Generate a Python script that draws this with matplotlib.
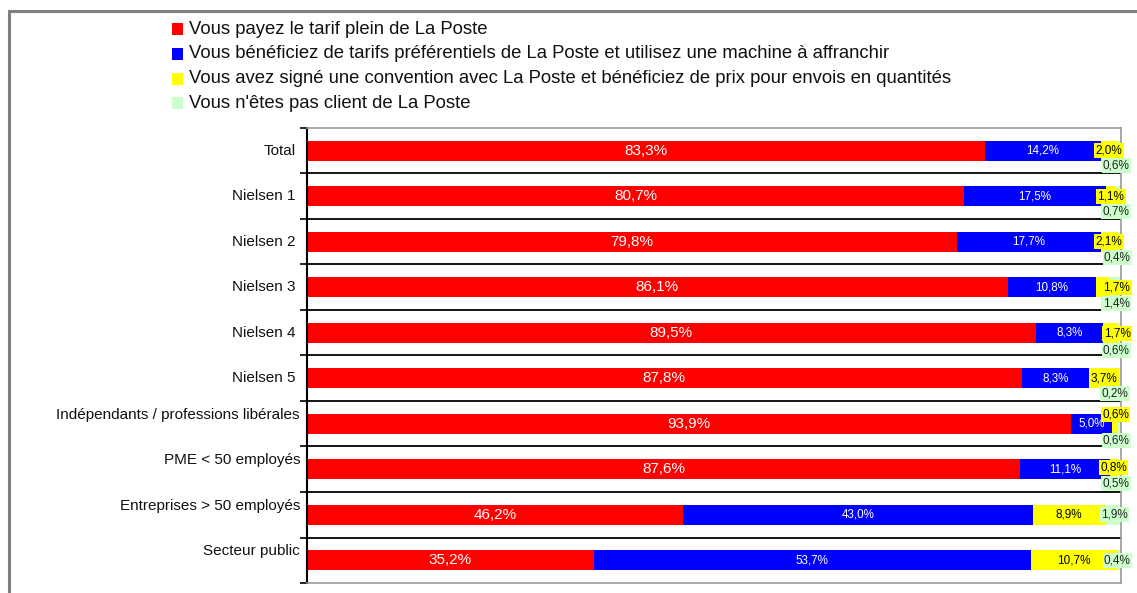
import matplotlib
matplotlib.use("Agg")
import matplotlib.pyplot as plt
from matplotlib.patches import Rectangle

plt.rcParams['font.family'] = ['Liberation Sans', 'DejaVu Sans']

categories = ["Total", "Nielsen 1", "Nielsen 2", "Nielsen 3", "Nielsen 4", "Nielsen 5",
              "Indépendants / professions libérales", "PME < 50 employés",
              "Entreprises > 50 employés", "Secteur public"]
tarif_plein = [83.3, 80.7, 79.8, 86.1, 89.5, 87.8, 93.9, 87.6, 46.2, 35.2]
tarifs_pref = [14.2, 17.5, 17.7, 10.8, 8.3, 8.3, 5.0, 11.1, 43.0, 53.7]
convention = [2.0, 1.1, 2.1, 1.7, 1.7, 3.7, 0.6, 0.8, 8.9, 10.7]
non_client = [0.6, 0.7, 0.4, 1.4, 0.6, 0.2, 0.6, 0.5, 1.9, 0.4]
series_names = [
    "Vous payez le tarif plein de La Poste",
    "Vous bénéficiez de tarifs préférentiels de La Poste et utilisez une machine à affranchir",
    "Vous avez signé une convention avec La Poste et bénéficiez de prix pour envois en quantités",
    "Vous n'êtes pas client de La Poste",
]
colors = ["#FF0000", "#0000FF", "#FFFF00", "#CCFFCC"]

# label placement tweaks (pixels), styling only
yellow_off = [(0, 0), (0, 0), (0, 0), (14, 0), (7, -1), (0, 0), (1, 9), (0, 2), (0, 0), (0, 0)]
green_off = [(-3, -15), (-2, -15), (-2, -16), (1, -16), (-3, -18), (-5, -15), (-3, -17), (-3, -14), (1, 0), (-2, 0)]
cat_off = [(-11, 0)] * 6 + [(-7, 9)] * 4

W, H = 1137, 593
fig = plt.figure(figsize=(W / 100, H / 100), dpi=100)
ax = fig.add_axes([307 / W, 1 - 583 / H, (1121 - 307) / W, (583 - 128) / H])

series = [tarif_plein, tarifs_pref, convention, non_client]
n = len(categories)
ys = list(range(n))
left = [0.0] * n
lefts = []
for vals, c in zip(series, colors):
    ax.barh(ys, vals, left=left, height=0.44, color=c, edgecolor='none', zorder=2)
    lefts.append(list(left))
    left = [l + v for l, v in zip(left, vals)]

def fmt(v):
    return f"{v:.1f}".replace(".", ",") + "%"

for i in range(n):
    xc = lefts[0][i] + tarif_plein[i] / 2
    ax.text(xc, i, fmt(tarif_plein[i]), ha='center', va='center', color='white', fontsize=11, zorder=4)
    xc = lefts[1][i] + tarifs_pref[i] / 2
    ax.text(xc, i, fmt(tarifs_pref[i]), ha='center', va='center', color='white', fontsize=8.4, zorder=4)
    xc = lefts[2][i] + convention[i] / 2
    ax.annotate(fmt(convention[i]), xy=(xc, i), xytext=yellow_off[i], textcoords='offset pixels',
                ha='center', va='center', fontsize=8.5, color='black', zorder=5,
                annotation_clip=False,
                bbox=dict(boxstyle='square,pad=0.12', fc=colors[2], ec='none'))
    xc = lefts[3][i] + non_client[i] / 2
    ax.annotate(fmt(non_client[i]), xy=(xc, i), xytext=green_off[i], textcoords='offset pixels',
                ha='center', va='center', fontsize=8.5, color='#222222', zorder=5,
                annotation_clip=False,
                bbox=dict(boxstyle='square,pad=0.12', fc=colors[3], ec='none'))
    ax.annotate(categories[i], xy=(0, i), xycoords=('axes fraction', 'data'),
                xytext=cat_off[i], textcoords='offset pixels', ha='right', va='center',
                fontsize=11, color='#111111', annotation_clip=False)

for b in range(1, n):
    ax.axhline(b - 0.5, color='black', lw=1.3, zorder=1)

ax.set_xlim(0, 100)
ax.set_ylim(n - 0.5, -0.5)
ax.set_xticks([])
ax.set_yticks([b - 0.5 for b in range(n + 1)])
ax.set_yticklabels([])
ax.tick_params(axis='y', direction='out', length=5, width=1.2, color='black')
ax.spines['left'].set_color('black')
ax.spines['left'].set_linewidth(1.5)
for s in ['top', 'bottom', 'right']:
    ax.spines[s].set_color('#999999')
    ax.spines[s].set_linewidth(1.2)

# legend
legend_y = [29, 54, 78.5, 103]
for name, c, yp in zip(series_names, colors, legend_y):
    fig.add_artist(Rectangle((172 / W, 1 - (yp + 6) / H), 11 / W, 12 / H,
                             transform=fig.transFigure, fc=c, ec='none'))
    fig.text(189 / W, 1 - yp / H, name, ha='left', va='center', fontsize=13.3, color='#111111')

# outer frame
fig.add_artist(Rectangle((8.5 / W, -0.1), 1.2, 1.1 - 11 / H, transform=fig.transFigure,
                         fc='none', ec='#808080', lw=2.2, clip_on=False))

fig.savefig("out.png", dpi=100)
